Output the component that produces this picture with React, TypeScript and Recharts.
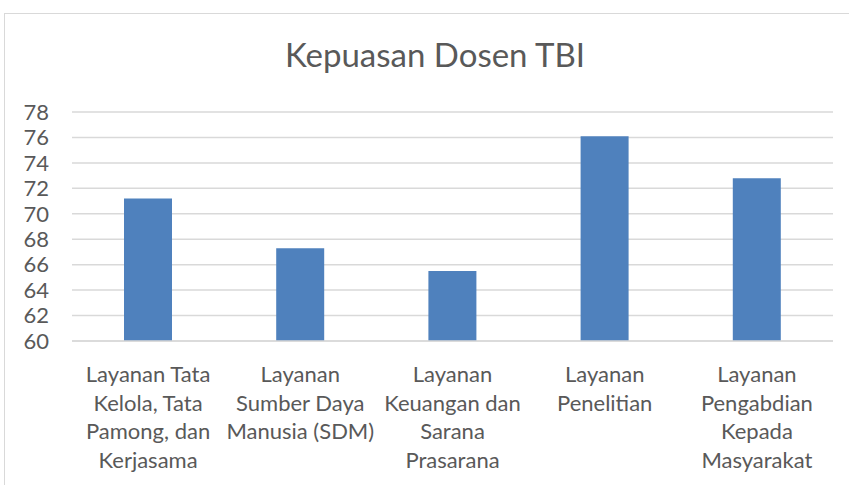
import { BarChart, Bar, XAxis, YAxis, CartesianGrid } from 'recharts';

const categories = [
  'Layanan Tata Kelola, Tata Pamong, dan Kerjasama',
  'Layanan Sumber Daya Manusia (SDM)',
  'Layanan Keuangan dan Sarana Prasarana',
  'Layanan Penelitian',
  'Layanan Pengabdian Kepada Masyarakat',
];

const tickLines = [
  ['Layanan Tata', 'Kelola, Tata', 'Pamong, dan', 'Kerjasama'],
  ['Layanan', 'Sumber Daya', 'Manusia (SDM)'],
  ['Layanan', 'Keuangan dan', 'Sarana', 'Prasarana'],
  ['Layanan', 'Penelitian'],
  ['Layanan', 'Pengabdian', 'Kepada', 'Masyarakat'],
];

const values = [71.2, 67.3, 65.5, 76.1, 72.8];

const yTicks = [60, 62, 64, 66, 68, 70, 72, 74, 76, 78];

const data = categories.map((name, i) => ({ name, value: values[i] }));

const FONT = 'Lato, "Open Sans", sans-serif';
const TEXT = '#595959';

function CategoryTick(props: any) {
  const { x, y, index } = props;
  const lines = tickLines[index] || [];
  return (
    <text x={x} y={y} textAnchor="middle" fill={TEXT} fontSize={22} fontFamily={FONT}>
      {lines.map((l, i) => (
        <tspan key={i} x={x} dy={i === 0 ? 33 : 28.7}>{l}</tspan>
      ))}
    </text>
  );
}

export default function App() {
  return (
    <div style={{ position: 'absolute', left: 0, top: 0, width: 849, height: 485, overflow: 'hidden', background: '#fff' }}>
      <div style={{ position: 'absolute', left: 4, top: 13, width: 900, height: 600, border: '1px solid #d9d9d9' }} />
      <div
        style={{
          position: 'absolute', left: 0, top: 34, width: 870, textAlign: 'center',
          fontFamily: FONT, fontSize: 33, color: TEXT, lineHeight: '40px',
        }}
      >
        Kepuasan Dosen TBI
      </div>
      <div style={{ position: 'absolute', left: 0, top: 0 }}>
        <BarChart width={849} height={485} data={data} margin={{ top: 112, right: 16, bottom: 0, left: 0 }}>
          <CartesianGrid vertical={false} stroke="#d9d9d9" strokeWidth={1.5} />
          <XAxis
            dataKey="name"
            interval={0}
            tickLine={false}
            axisLine={{ stroke: '#d9d9d9', strokeWidth: 1.5 }}
            tick={<CategoryTick />}
            height={144}
          />
          <YAxis
            domain={[60, 78]}
            ticks={yTicks}
            interval={0}
            width={72}
            axisLine={false}
            tickLine={false}
            tickMargin={17}
            tick={{ fill: TEXT, fontSize: 22, fontFamily: FONT }}
          />
          <Bar dataKey="value" fill="#4f81bd" barSize={48} isAnimationActive={false} />
        </BarChart>
      </div>
    </div>
  );
}
